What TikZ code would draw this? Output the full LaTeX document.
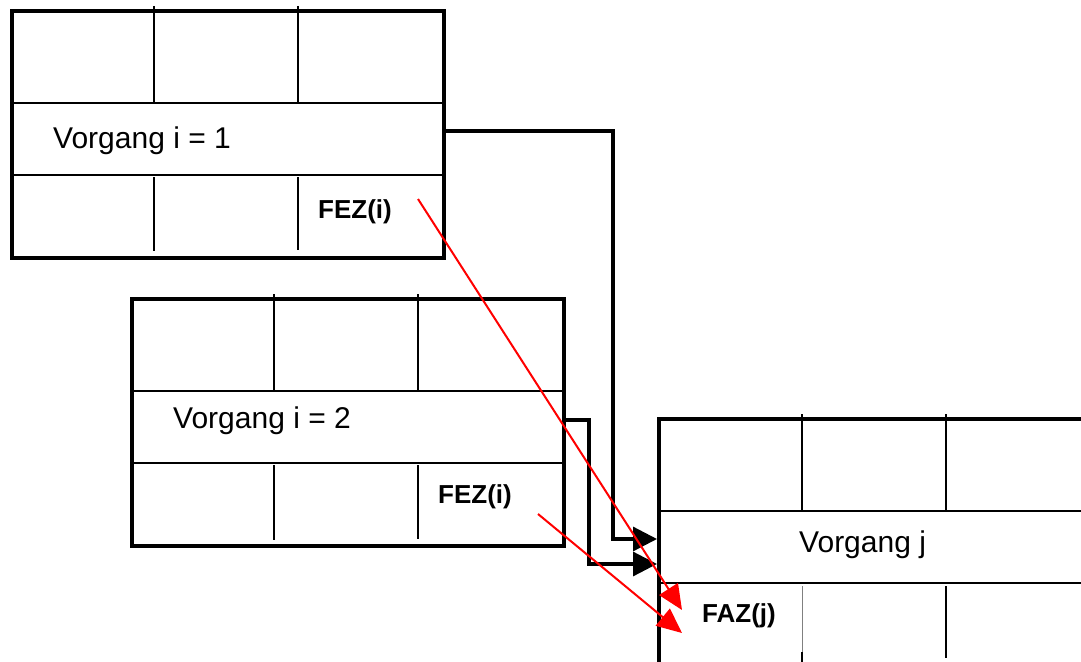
\documentclass[tikz,border=0pt]{standalone}
\usepackage{fontspec}
\setmainfont{Liberation Sans}
\usetikzlibrary{arrows.meta,calc}
\begin{document}
\begin{tikzpicture}[x=1pt,y=-1pt,
  frame/.style={draw=black, line width=4pt, fill=white, inner sep=0pt,
    minimum width=432pt, minimum height=247pt, anchor=north west},
  grid/.style={draw=black, line width=1.7pt},
  lbl/.style={font=\fontsize{30}{35}\selectfont, anchor=base west, inner sep=0pt},
  blbl/.style={font=\fontsize{26}{31}\selectfont\bfseries, anchor=base west, inner sep=0pt},
  link/.style={draw=black, line width=3.2pt, -{Triangle[length=24pt,width=24pt]}},
  redarrow/.style={draw=red, line width=2pt, -{Triangle[length=25pt,width=22pt]}}]
\useasboundingbox (0,0) rectangle (1081,661);
\clip (0,0) rectangle (1081,661);

% Box 1
\node[frame] (b1) at (10,9) {};
\draw[grid] (10,103) -- (442,103);
\draw[grid] (10,175) -- (442,175);
\draw[grid] (154,6) -- (154,103);
\draw[grid] (298,6) -- (298,103);
\draw[grid] (154,177) -- (154,251);
\draw[grid] (298,177) -- (298,250);
\node[lbl] (t1) at (53,148) {Vorgang i = 1};
\node[blbl] (fez1) at (318,218) {FEZ(i)};

% Box 2
\node[frame] (b2) at (130,297) {};
\draw[grid] (130,391) -- (562,391);
\draw[grid] (130,463) -- (562,463);
\draw[grid] (274,294) -- (274,391);
\draw[grid] (418,294) -- (418,391);
\draw[grid] (274,465) -- (274,540);
\draw[grid] (418,465) -- (418,539);
\node[lbl] (t2) at (173,428) {Vorgang i = 2};
\node[blbl] (fez2) at (438,503) {FEZ(i)};

% Box 3
\node[frame] (b3) at (657,417) {};
\draw[grid] (657,511) -- (1089,511);
\draw[grid] (657,583) -- (1089,583);
\draw[grid] (802,414) -- (802,511);
\draw[grid] (946,414) -- (946,511);
\draw[draw=gray, line width=1pt] (802,586) -- (802,652);
\draw[grid] (802,652) -- (802,664);
\draw[grid] (946,586) -- (946,658);
\node[lbl] (t3) at (799,552) {Vorgang j};
\node[blbl] (faz) at (702,622) {FAZ(j)};

% black connectors
\draw[link] ($(b1.east)+(0,-3.5)$) -- ++(167,0) |- ($(b3.west)+(0,-3.5)$);
\draw[link] ($(b2.east)+(0,-2.5)$) -- ++(23,0) |- ($(b3.west)+(0,21.5)$);

% red arrows
\coordinate (r1s) at (418,199);
\coordinate (r1e) at (682,610);
\coordinate (r2s) at (538,514);
\coordinate (r2e) at (682,633);
\draw[redarrow] (r1s) -- (r1e);
\draw[redarrow] (r2s) -- (r2e);
\end{tikzpicture}
\end{document}
